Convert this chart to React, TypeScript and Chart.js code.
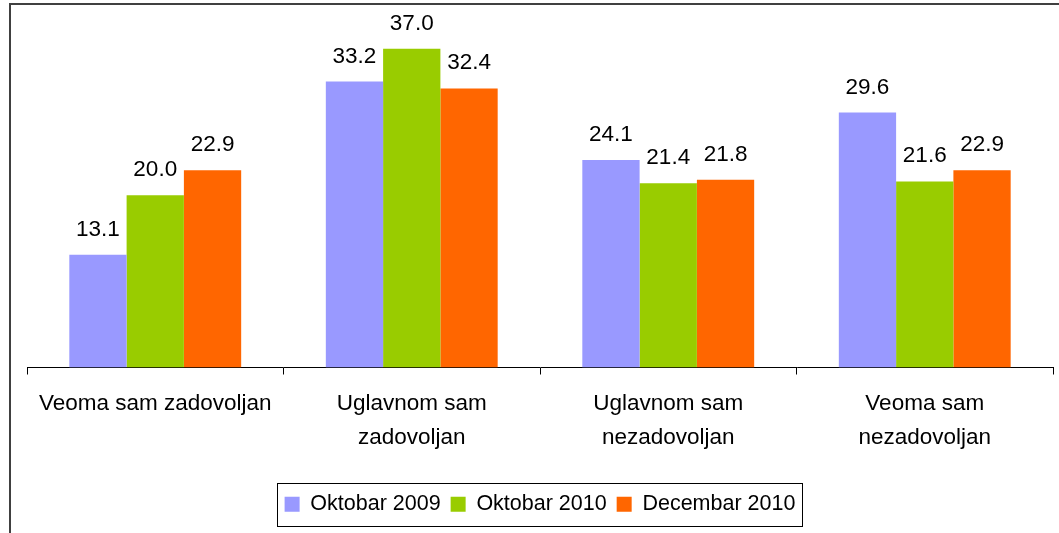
import React, { useEffect, useRef } from "react";
import { Chart, registerables } from "chart.js";

Chart.register(...registerables);

const categories: string[][] = [
  ["Veoma sam zadovoljan"],
  ["Uglavnom sam", "zadovoljan"],
  ["Uglavnom sam", "nezadovoljan"],
  ["Veoma sam", "nezadovoljan"],
];
const seriesNames = ["Oktobar 2009", "Oktobar 2010", "Decembar 2010"];
const oktobar2009 = [13.1, 33.2, 24.1, 29.6];
const oktobar2010 = [20.0, 37.0, 21.4, 21.6];
const decembar2010 = [22.9, 32.4, 21.8, 22.9];
const seriesColors = ["#9999FF", "#99CC00", "#FF6600"];

const FONT = "'Liberation Sans', Arial, sans-serif";

const framePlugin = {
  id: "frame",
  beforeDraw(chart: any) {
    const { ctx, width, height } = chart;
    ctx.save();
    ctx.fillStyle = "#ffffff";
    ctx.fillRect(0, 0, width, height);
    ctx.strokeStyle = "#404040";
    ctx.lineWidth = 2;
    ctx.beginPath();
    ctx.moveTo(10, height + 2);
    ctx.lineTo(10, 4);
    ctx.lineTo(width + 2, 4);
    ctx.stroke();
    ctx.restore();
  },
};

const valueLabelPlugin = {
  id: "valueLabels",
  afterDatasetsDraw(chart: any) {
    const { ctx } = chart;
    ctx.save();
    ctx.font = `22.5px ${FONT}`;
    ctx.fillStyle = "#000000";
    ctx.textAlign = "center";
    ctx.textBaseline = "alphabetic";
    chart.data.datasets.forEach((ds: any, di: number) => {
      const meta = chart.getDatasetMeta(di);
      meta.data.forEach((bar: any, i: number) => {
        const v = ds.data[i] as number;
        ctx.fillText(v.toFixed(1), bar.x, bar.y - 19);
      });
    });
    ctx.restore();
  },
};

const legendBoxPlugin = {
  id: "legendBox",
  afterDraw(chart: any) {
    const hb = chart.legend?.legendHitBoxes;
    if (!hb || !hb.length) return;
    const first = hb[0];
    const last = hb[hb.length - 1];
    const left = Math.round(first.left - 8) + 0.5;
    const right = Math.round(last.left + last.width + 7) + 0.5;
    const top = Math.round(first.top - 11) + 0.5;
    const bottom = Math.round(first.top + first.height + 11) + 0.5;
    const { ctx } = chart;
    ctx.save();
    ctx.strokeStyle = "#000000";
    ctx.lineWidth = 1;
    ctx.strokeRect(left, top, right - left, bottom - top);
    ctx.restore();
  },
};

export default function App() {
  const ref = useRef<HTMLCanvasElement | null>(null);

  useEffect(() => {
    document.body.style.margin = "0";
    if (!ref.current) return;
    const values = [oktobar2009, oktobar2010, decembar2010];
    const chart = new Chart(ref.current, {
      type: "bar",
      data: {
        labels: categories,
        datasets: seriesNames.map((name, i) => ({
          label: name,
          data: values[i],
          backgroundColor: seriesColors[i],
          borderWidth: 0,
          categoryPercentage: 0.67,
          barPercentage: 1.0,
        })),
      },
      options: {
        responsive: false,
        animation: false,
        layout: { padding: { left: 27, right: 6, top: 23, bottom: 8 } },
        plugins: {
          legend: {
            position: "bottom",
            labels: {
              font: { family: FONT, size: 21.5 },
              color: "#000000",
              boxWidth: 15,
              boxHeight: 15,
              padding: 10,
            },
          },
          tooltip: { enabled: false },
        },
        scales: {
          x: {
            offset: true,
            grid: {
              offset: true,
              drawOnChartArea: false,
              drawTicks: true,
              tickLength: 7,
              color: "#000000",
              lineWidth: 1,
            },
            border: { display: true, color: "#000000", width: 1 },
            ticks: {
              color: "#000000",
              font: { family: FONT, size: 22.5, lineHeight: 1.53 },
              padding: 12,
              maxRotation: 0,
              autoSkip: false,
            },
            afterFit(scale: any) {
              scale.height = 116;
            },
          },
          y: {
            display: false,
            min: 0,
            max: 40,
          },
        },
      },
      plugins: [framePlugin, valueLabelPlugin, legendBoxPlugin],
    });
    return () => chart.destroy();
  }, []);

  return <canvas ref={ref} width={1059} height={533} style={{ display: "block" }} />;
}
